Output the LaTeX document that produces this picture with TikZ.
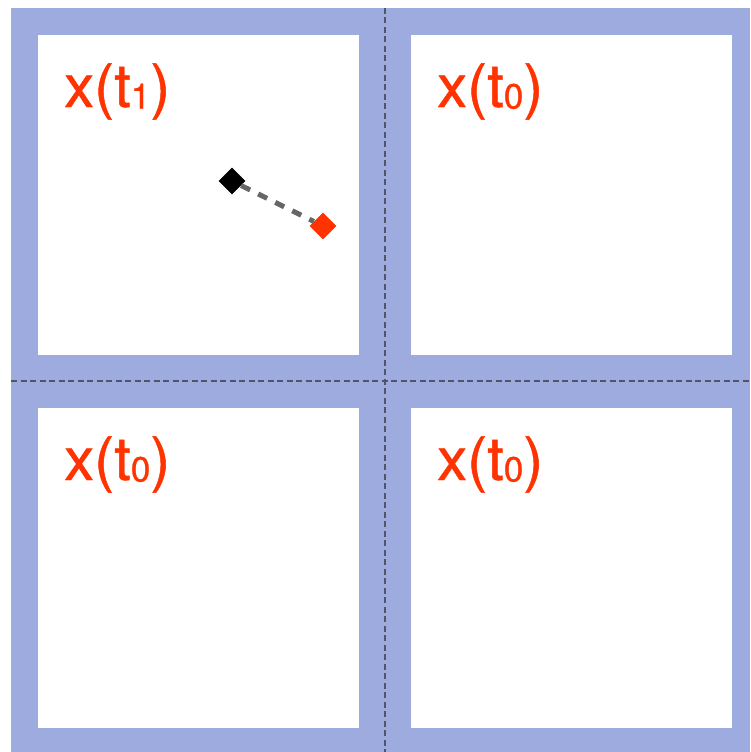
\documentclass[tikz,border=0pt]{standalone}
\usepackage{fontspec}
\setmainfont{TeX Gyre Heros}
\newfontfamily\labelfont[FakeBold=0.8]{TeX Gyre Heros}
\usetikzlibrary{shapes.geometric}
\definecolor{tileblue}{HTML}{9DABDF}
\definecolor{labelred}{HTML}{FF3300}
\definecolor{gridink}{HTML}{50556A}
\definecolor{linkgray}{HTML}{666666}
\newcommand{\tsub}[1]{\raisebox{-1.5pt}{\fontsize{35}{35}\selectfont #1}}

\begin{document}
\begin{tikzpicture}[x=1pt, y=-1pt,
  tlabel/.style={text=labelred, anchor=base west, inner sep=0pt,
    font=\labelfont\fontsize{60}{60}\selectfont},
  gridline/.style={draw=gridink, line width=1.2pt, dash pattern=on 6pt off 3.5pt},
  samplept/.style={shape=diamond, minimum size=27pt, inner sep=0pt}]
  \useasboundingbox (0,0) rectangle (750,752);
  \fill[tileblue] (11,8) rectangle (750,752);
  % four white tiles
  \foreach \x in {38, 411}
    \foreach \y in {35, 408}
      \fill[white] (\x,\y) rectangle ++(321,320);
  \draw[gridline] (385,8) -- (385,752);
  \draw[gridline] (11,381) -- (750,381);
  % labels
  \node[tlabel] (lab11) at (64,107) {x(t\tsub{1})};
  \node[tlabel] (lab12) at (437,107) {x(t\tsub{0})};
  \node[tlabel] (lab21) at (64,480) {x(t\tsub{0})};
  \node[tlabel] (lab22) at (437,480) {x(t\tsub{0})};
  % displacement
  \node[samplept, fill=black] (old) at (232,181) {};
  \node[samplept, fill=labelred] (new) at (323,226) {};
  \draw[linkgray, line width=5pt, dash pattern=on 10pt off 9pt] (old) -- (new);
\end{tikzpicture}
\end{document}
